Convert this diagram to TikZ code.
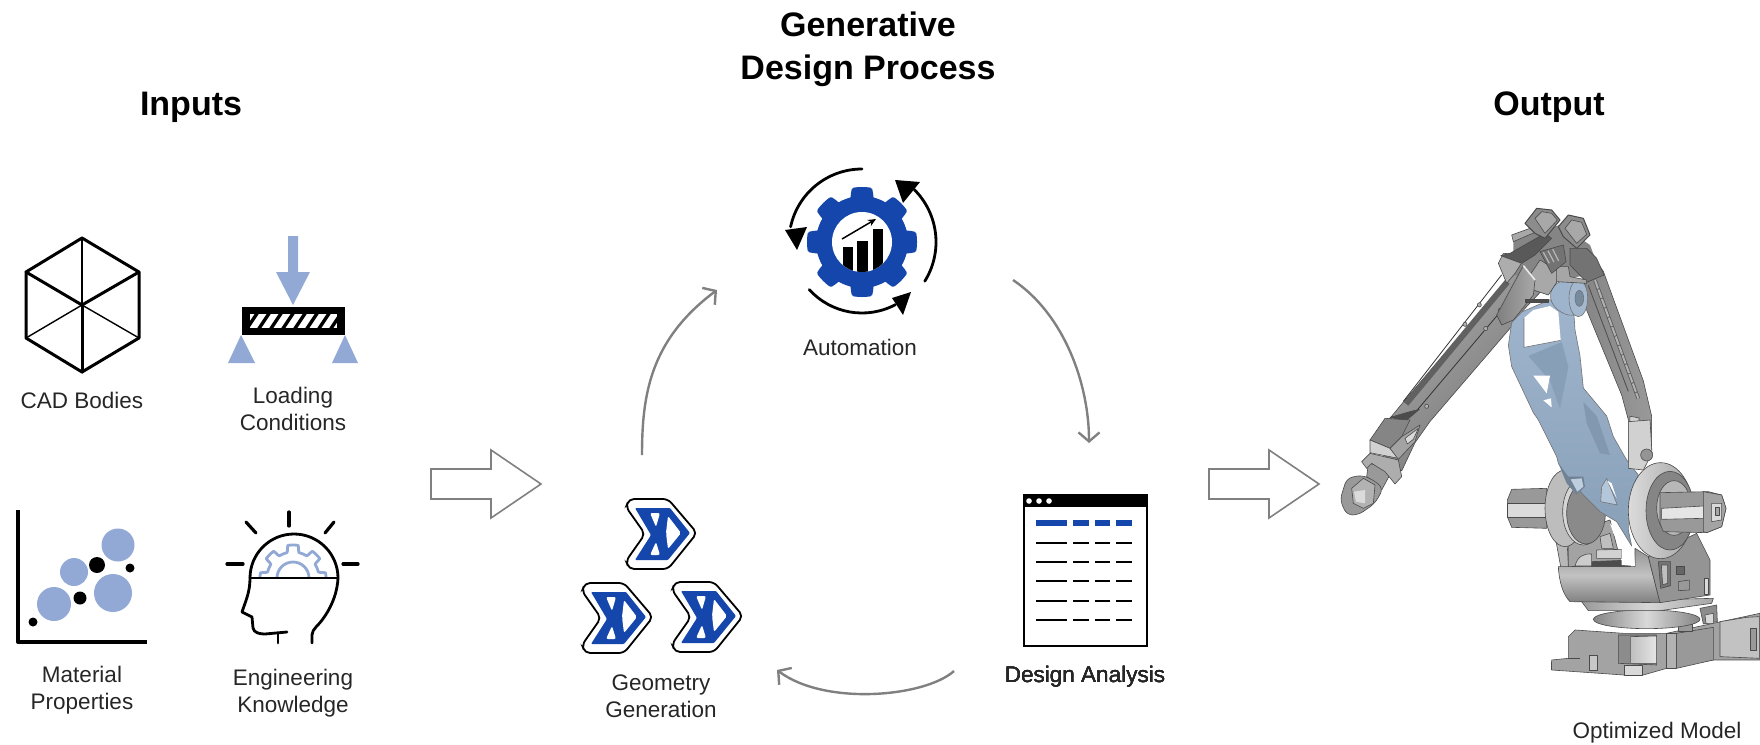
\documentclass[tikz,border=0pt]{standalone}
\usepackage{fontspec}
\setmainfont{Liberation Sans}
\usetikzlibrary{arrows.meta}
\definecolor{softblue}{HTML}{92A9D6}
\definecolor{deepblue}{HTML}{1446AB}
\definecolor{loopgrey}{HTML}{808080}
\definecolor{partblue}{HTML}{94ADC8}
\definecolor{partedge}{HTML}{4A4A4A}
\def\gearplot[#1](#2,#3)(#4:#5){\draw[#1] plot[domain=0:360,samples=241,variable=\t] ({#2+(#4+(#5-#4)*max(0,min(1,2.2*cos(8*\t)+0.4)))*cos(\t)},{#3+(#4+(#5-#4)*max(0,min(1,2.2*cos(8*\t)+0.4)))*sin(\t)}) -- cycle;}
\def\hollowarrow(#1,#2){\draw[bigarrow] (#1,#2-15) -- (#1+60,#2-15) -- (#1+60,#2-34) -- (#1+110,#2) -- (#1+60,#2+34) -- (#1+60,#2+15) -- (#1,#2+15) -- cycle;}
\def\tablerow[#1](#2){\draw[#1] (1036,#2) -- (1067,#2); \draw[#1] (1073,#2) -- (1089,#2); \draw[#1] (1095,#2) -- (1110,#2); \draw[#1] (1116,#2) -- (1132,#2);}
\tikzset{
	heading/.style={font=\bfseries\fontsize{34}{43}\selectfont, text=black, align=center, inner sep=0pt},
	caption/.style={font=\fontsize{22.5}{27}\selectfont, text=black!85, align=center, inner sep=0pt},
	looparrow/.style={line width=2.4pt, color=loopgrey, -{Straight Barb[length=9pt,width=21pt,line width=2.4pt]}},
	bigarrow/.style={line width=1.6pt, color=black!50, line join=miter},
	cubethick/.style={line width=3pt, line join=round, line cap=round},
	cubethin/.style={line width=1.4pt},
	part/.style={draw=partedge, line width=0.6pt, line join=round},
	bluepart/.style={draw=black!55, line width=0.6pt, line join=round},
	baseview/.style={shift={(1500,420)},x=0.3333pt,y=-0.3333pt},
	armview/.style={shift={(1320,190)},x=0.3333pt,y=-0.3534pt},
	headview/.style={shift={(1480,195)},x=0.3333pt,y=-0.3333pt},
	wristview/.style={shift={(1330,360)},x=0.3333pt,y=-0.3333pt},
	geomicon/.pic={
		\draw[fill=white, line width=1.8pt, rounded corners=5pt] (2,0) -- (41,0) -- (70,34) -- (41,70) -- (2,70) -- (-1,62) -- (18,35) -- (-1,8) -- cycle;
		\fill[deepblue, rounded corners=1pt] (8,9) -- (43,9) -- (63,34) -- (41,61) -- (8,61) -- (24,36) -- cycle;
		\fill[white, rounded corners=2pt] (23,14) -- (33,14) -- (29,28) -- cycle;
		\fill[white, rounded corners=2pt] (23,56) -- (33,56) -- (29,43) -- cycle;
		\fill[white, rounded corners=2pt] (41,17) -- (54,34) -- (41,50) -- (39,34) -- cycle;
	}
}

\begin{document}
\begin{tikzpicture}[x=1pt,y=-1pt]
	\useasboundingbox (0,0) rectangle (1760,744);
	%%%%% START %%%%%

	% headings
	\node[heading] (titlegen) at (868,49) {Generative\\Design Process};
	\node[heading] (titlein) at (191,107) {Inputs};
	\node[heading] (titleout) at (1549,107) {Output};

	% cad bodies
	\draw[cubethick] (82,238) -- (139,272) -- (139,338) -- (82,372) -- (26,338) -- (26,272) -- cycle;
	\draw[cubethick] (26,272) -- (82,305) -- (139,272);
	\draw[cubethick] (82,305) -- (82,372);
	\draw[cubethin] (82,238) -- (82,305);
	\draw[cubethin] (26,338) -- (82,305) -- (139,338);
	\node[caption] (cad) at (82,400) {CAD Bodies};

	% loading conditions
	\fill[softblue] (288,236) -- (298,236) -- (298,272) -- (310,272) -- (293,305) -- (276,272) -- (288,272) -- cycle;
	\fill[black] (242,307) rectangle (345,335);
	\fill[white] (250,314) rectangle (337,328);
	\begin{scope}
		\clip (250,314) rectangle (337,328);
		\foreach \x in {250,262,...,340}
			\draw[line width=3.4pt] (\x-4,330) -- (\x+8,312);
	\end{scope}
	\fill[softblue] (228,363) -- (255,363) -- (241,335) -- cycle;
	\fill[softblue] (332,363) -- (358,363) -- (345,335) -- cycle;
	\node[caption] (loading) at (293,409) {Loading\\Conditions};

	% material properties
	\draw[line width=4pt, line join=round] (18,510) -- (18,642) -- (147,642);
	\fill[softblue] (118,545) circle[radius=16.5];
	\fill[softblue] (74,572) circle[radius=14];
	\fill[softblue] (113,593) circle[radius=19];
	\fill[softblue] (54,604) circle[radius=17];
	\fill (97,565) circle[radius=8];
	\fill (130,568) circle[radius=4.5];
	\fill (80,598) circle[radius=6.5];
	\fill (33,622) circle[radius=4.5];
	\node[caption] (material) at (82,690) {Material\\Properties};

	% engineering knowledge
	\begin{scope}
		\clip (240,530) rectangle (350,578);
		\gearplot[softblue, line width=2.8pt, line join=round](293,578)(26:33)
		\draw[softblue, line width=2.8pt] (293,578) circle[radius=16];
	\end{scope}
	\draw[line width=2.8pt, line cap=round, line join=round] (250,578) arc[start angle=180,end angle=360,radius=44] .. controls (337,600) and (325,618) .. (316,627) .. controls (311,632) and (312,636) .. (312,643);
	\draw[line width=2.8pt] (250,578) -- (338,578);
	\draw[line width=2.8pt, line cap=round, line join=round] (250,578) .. controls (250,592) and (246,600) .. (242,612) -- (252,617) -- (253,628) .. controls (254,633) and (260,634) .. (265,634) -- (287,632);
	\draw[line width=2.8pt, line cap=round] (278,633) -- (278,643);
	\foreach \a/\b/\c/\d in {289/512/289/526,246/522/256/533,334/522/325/533,227/564/243/564,343/564/358/564}
		\draw[line width=3.2pt, line cap=round] (\a,\b) -- (\c,\d);
	\node[caption] (knowledge) at (293,693) {Engineering\\Knowledge};

	% automation
	\gearplot[fill=deepblue, draw=deepblue, line width=4pt, line join=round](862,242)(44:53)
	\fill[white] (862,242) circle[radius=30];
	\begin{scope}
		\clip (862,242) circle[radius=30];
		\fill (843,247) rectangle (853,280);
		\fill (857,241) rectangle (868,280);
		\fill (873,229) rectangle (883,280);
	\end{scope}
	\draw[line width=1.5pt, -{Stealth[length=8pt,width=7pt]}] (842,239) -- (876,219);
	\draw[line width=2.8pt, line cap=round] (862,242) ++(270:73) arc[start angle=270,end angle=192,radius=73];
	\fill (785,230) -- (807,227) -- (797,250) -- cycle;
	\draw[line width=2.8pt, line cap=round] (862,242) ++(32:74) arc[start angle=32,end angle=-45,radius=74];
	\fill (895,180) -- (920,182) -- (903,203) -- cycle;
	\draw[line width=2.8pt, line cap=round] (862,242) ++(138:71) arc[start angle=138,end angle=62,radius=71];
	\fill (911,292) -- (892,298) -- (903,315) -- cycle;
	\node[caption] (automation) at (860,347) {Automation};

	% geometry generation
	\pic (geomtop) at (627,499) {geomicon};
	\pic (geomleft) at (583,583) {geomicon};
	\pic (geomright) at (673,582) {geomicon};
	\node[caption] (geometry) at (661,696) {Geometry\\Generation};

	% design analysis
	\draw[line width=2.4pt, fill=white] (1024,495) rectangle (1147,646);
	\fill (1023,494) rectangle (1148,507);
	\foreach \x in {1029,1039,1049}
		\fill[white] (\x,501) circle[radius=2.8];
	\tablerow[deepblue, line width=6pt](523)
	\foreach \y in {543,562,581,601,620}
		\tablerow[line width=2.6pt](\y)
	\node[caption] (analysis) at (1085,677) {Design Analysis};

	% loop arrows
	\coordinate (genout) at (642,455);
	\coordinate (autoin) at (717,290);
	\coordinate (autoout) at (1013,280);
	\coordinate (anaIn) at (1089,443);
	\coordinate (anaout) at (954,671);
	\coordinate (genin) at (777,670);
	\draw[looparrow] (genout) .. controls (642,395) and (650,340) .. (autoin);
	\draw[looparrow] (autoout) .. controls (1065,315) and (1089,385) .. (anaIn);
	\draw[looparrow] (anaout) .. controls (925,697) and (825,706) .. (genin);

	\hollowarrow(431,484)
	\hollowarrow(1209,484)

	% foot of the robot
	\begin{scope}[baseview]
		\draw[part, fill=black!36] (205,650) -- (225,630) -- (370,640) -- (500,640) -- (640,610) -- (780,580) -- (780,720) -- (640,720) -- (500,745) -- (430,765) -- (370,765) -- (155,750) -- (155,720) -- (205,715) -- cycle;
		\draw[part, fill=black!45] (355,645) -- (470,645) -- (470,735) -- (355,730) -- cycle;
		\draw[part, left color=black!25, right color=black!10] (392,650) -- (470,648) -- (470,730) -- (392,730) -- cycle;
		\draw[part, fill=black!30] (500,640) -- (530,640) -- (530,745) -- (500,745) -- cycle;
		\draw[part, fill=black!40] (530,640) -- (640,622) -- (640,720) -- (530,745) -- cycle;
		\draw[part, fill=black!24] (660,605) -- (740,592) -- (778,590) -- (778,715) -- (660,710) -- cycle;
		\draw[part, fill=black!40] (752,625) -- (770,625) -- (770,690) -- (752,690) -- cycle;
		\draw[part, fill=black!22] (268,705) -- (292,705) -- (292,752) -- (268,752) -- cycle;
		\draw[part, fill=black!15] (372,735) -- (428,735) -- (428,765) -- (372,765) -- cycle;
		\draw[part] (205,715) -- (240,715);
		\draw[part] (155,725) -- (155,750);
		% turntable
		\draw[part, fill=black!40] (535,605) -- (578,605) -- (578,635) -- (535,635) -- cycle;
		\draw[part, left color=black!48, right color=black!48, middle color=black!15] (440,598) ellipse[x radius=160, y radius=28];
		\draw[part, fill=black!45] (600,565) -- (650,555) -- (652,605) -- (610,612) -- cycle;
		\draw[part, fill=black!15] (615,585) -- (640,580) -- (640,610) -- (618,610) -- cycle;
		\draw[part, left color=black!40, right color=black!35, middle color=black!16] (245,545) -- (640,535) -- (635,550) -- (480,572) -- (265,572) -- cycle;
		% pedestal
		\draw[part, top color=black!42, bottom color=black!50, middle color=black!24] (175,440) -- (405,440) -- (405,385) -- (445,410) -- (480,548) -- (210,545) .. controls (190,525) and (178,490) .. (175,440) -- cycle;
		\draw[part, fill=black!42] (445,410) -- (590,340) -- (630,420) -- (630,525) -- (480,548) -- cycle;
		\draw[part, fill=black!55] (475,425) -- (512,425) -- (512,497) -- (482,505) -- cycle;
		\draw[part, fill=black!25] (484,435) -- (503,435) -- (503,490) -- (488,494) -- cycle;
		\draw[part, fill=black!60] (530,440) -- (552,440) -- (552,462) -- (530,462) -- cycle;
		\draw[part, fill=black!40] (535,485) -- (568,480) -- (568,510) -- (535,512) -- cycle;
		\draw[part, fill=black!15] (614,475) -- (626,475) -- (626,522) -- (614,522) -- cycle;
		% inside the yoke
		\draw[part, fill=black!36] (205,340) -- (330,300) -- (365,435) -- (205,440) -- cycle;
		\draw[part, fill=black!18] (290,390) -- (365,388) -- (365,415) -- (290,415) -- cycle;
		\draw[part, fill=black!70] (275,425) -- (392,420) -- (392,440) -- (275,440) -- cycle;
		\draw[part, fill=black!20] (225,438) .. controls (232,410) and (250,400) .. (275,402) -- (275,438) -- cycle;
		\draw[part, fill=black!25] (300,350) -- (330,340) -- (340,385) -- (305,385) -- cycle;
		\fill[white] (330,310) -- (400,380) -- (405,438) -- (365,435) -- (365,385) -- (340,340) -- cycle;
		\draw[part, fill=black!28] (160,320) -- (198,300) -- (205,440) -- (182,440) -- cycle;
		% left shaft and hub
		\draw[part, fill=black!40] (35,208) -- (140,205) -- (140,325) -- (35,322) -- (22,290) -- (22,240) -- cycle;
		\draw[part, fill=black!14] (22,250) -- (140,250) -- (140,292) -- (22,292) -- cycle;
		\draw[part, fill=black!26] (195,265) ellipse[x radius=60, y radius=115];
		\draw[part, fill=black!16] (250,275) ellipse[x radius=62, y radius=100];
		\draw[part, fill=black!46] (258,280) ellipse[x radius=58, y radius=92];
	\end{scope}

	% rear link and long arm
	\begin{scope}[armview]
		\draw[part, left color=black!48, right color=black!40] (800,165) -- (850,230) -- (970,540) -- (995,640) -- (995,735) -- (975,745) -- (960,775) -- (925,775) -- (925,650) -- (905,580) -- (800,340) -- (795,270) -- (780,220) -- cycle;
		\draw[line width=3.6pt, color=black!65] (825,255) -- (955,590);
		\draw[line width=2pt, color=black!30, dash pattern=on 9pt off 1pt] (825,255) -- (955,590);
		\draw[line width=0.8pt, color=black!70] (805,270) -- (925,570);
		\draw[part, fill=black!18] (930,640) -- (957,645) -- (957,772) -- (925,772) -- cycle;
		\draw[part, left color=black!32, right color=black!55, shading angle=45] (590,225) -- (660,290) -- (610,340) -- (585,375) -- (330,655) -- (285,715) -- (245,795) -- (180,740) -- (150,710) -- (215,640) -- (250,600) -- cycle;
		\draw[line width=6pt, color=black!62] (562,260) -- (258,605);
		\draw[line width=0.8pt, color=black!80] (590,290) -- (285,630);
		\draw[line width=0.8pt, color=black!80] (545,240) -- (250,598);
		\foreach \a/\b in {541/340,497/392,320/612,435/380,478/325}
			\draw[part, fill=black!30] (\a,\b) circle[radius=6];
	\end{scope}

	% wrist and tool
	\begin{scope}[wristview]
		\draw[part, fill=black!70] (180,172) -- (240,155) -- (268,148) -- (228,182) -- cycle;
		\draw[part, fill=black!48] (120,240) -- (165,175) -- (240,180) -- (215,230) -- (180,265) -- cycle;
		\draw[part, fill=black!18] (120,240) -- (180,265) -- (205,295) -- (120,278) -- cycle;
		\draw[part, fill=black!36] (180,265) -- (215,230) -- (270,195) -- (255,245) -- (205,298) -- cycle;
		\draw[part, fill=black!15] (225,235) -- (265,205) -- (250,238) -- (232,252) -- cycle;
		\draw[part, fill=black!40] (115,310) -- (190,325) -- (155,390) -- (110,350) -- cycle;
		\draw[part, fill=black!32] (95,305) -- (120,280) -- (205,300) -- (215,350) -- (195,372) -- (165,335) -- (125,310) -- (110,325) -- cycle;
		\draw[part, fill=black!40, rounded corners=6pt] (50,355) -- (95,345) -- (130,360) -- (160,385) -- (135,430) -- (85,465) -- (50,465) -- (30,420) -- cycle;
		\draw[part, fill=black!30] (65,385) -- (100,355) -- (135,375) -- (130,430) -- (100,445) -- (70,430) -- cycle;
		\fill[black!14] (72,395) -- (105,390) -- (105,430) -- (78,425) -- cycle;
	\end{scope}

	% bracket, in the units of the foot
	\begin{scope}[baseview]
		\draw[bluepart, top color=partblue!90!white, bottom color=partblue!92!black] (65,-324) -- (35,-292) -- (25,-224) -- (35,-160) -- (100,-22) -- (115,0) -- (170,110) -- (175,130) -- (205,175) -- (250,225) -- (300,275) -- (350,305) -- (395,378) -- (385,330) -- (385,260) -- (395,210) -- (415,165) -- (380,120) -- (340,50) -- (320,-12) -- (250,-96) -- (240,-192) -- (225,-270) -- (222,-314) -- (190,-330) -- (150,-361) -- cycle;
		\fill[white] (72,-306) -- (72,-218) -- (182,-239) -- (175,-324) -- (150,-342) -- (100,-330) -- cycle;
		\draw[bluepart] (72,-306) -- (72,-218) -- (182,-239);
		\fill[partblue!92!black] (85,-192) -- (185,-234) -- (205,-160) -- (180,-33) -- (150,-118) -- cycle;
		\fill[white] (100,-133) -- (150,-133) -- (140,-80) -- cycle;
		\fill[white] (130,-59) -- (153,-65) -- (155,-38) -- cycle;
		\fill[partblue!88!black] (250,-54) -- (290,-12) -- (330,105) -- (300,100) -- (260,10) -- cycle;
		\fill[partblue!75!black] (175,130) -- (205,170) -- (250,170) -- (255,200) -- (230,225) -- (200,190) -- cycle;
		\fill[partblue!60!white] (212,178) -- (245,175) -- (250,200) -- (232,215) -- cycle;
		\draw[bluepart, fill=partblue!70!white] (305,200) -- (320,175) -- (352,255) -- (302,245) -- cycle;
		\fill[white] (322,182) -- (335,190) -- (350,235) -- cycle;
		\draw[bluepart, fill=partblue!92!white, rounded corners=8pt] (165,-415) -- (240,-420) -- (260,-365) -- (230,-310) -- (180,-320) -- (145,-365) -- cycle;
		\draw[bluepart, fill=partblue!85!white] (235,-365) ellipse[x radius=28, y radius=55];
		\draw[bluepart, fill=partblue!80!black] (238,-365) ellipse[x radius=13, y radius=24];
	\end{scope}

	% right hub and shaft
	\begin{scope}[baseview]
		\draw[part, fill=black!18] (385,5) -- (450,0) -- (456,100) -- (430,150) -- (385,145) -- cycle;
		\draw[part, fill=black!42] (440,105) circle[radius=18];
		\draw[part, left color=black!14, right color=black!35] (482,272) ellipse[x radius=97, y radius=144];
		\draw[part, fill=black!48] (510,272) ellipse[x radius=72, y radius=118];
		\draw[part, fill=black!28] (522,264) ellipse[x radius=52, y radius=82];
		\draw[part, fill=black!40] (480,218) -- (625,215) -- (665,225) -- (678,265) -- (665,320) -- (620,338) -- (490,335) -- (480,310) -- cycle;
		\draw[part, fill=black!10] (485,265) -- (610,258) -- (610,295) -- (485,298) -- cycle;
		\draw[part, fill=black!36] (610,215) -- (665,225) -- (678,265) -- (665,320) -- (620,338) -- (610,335) -- cycle;
		\draw[part, fill=black!15] (635,250) -- (665,250) -- (665,300) -- (635,305) -- cycle;
		\draw[part, fill=black!35] (645,262) -- (658,262) -- (658,285) -- (645,285) -- cycle;
	\end{scope}

	% wrist housing and motors
	\begin{scope}[headview]
		\fill[black!48] (100,130) -- (240,90) -- (330,150) -- (360,230) -- (230,260) -- (100,240) -- cycle;
		\draw[part, fill=black!55] (320,160) -- (350,190) -- (372,240) -- (320,262) -- (270,210) -- (270,160) -- cycle;
		\draw[part, fill=black!35] (215,215) -- (265,215) -- (270,245) -- (320,255) -- (320,265) -- (230,260) -- cycle;
		\draw[part, fill=black!34] (180,195) -- (230,225) -- (230,262) -- (205,300) -- (160,285) -- (150,240) -- cycle;
		\draw[part, left color=black!50, right color=black!34] (130,212) -- (165,255) -- (160,300) -- (100,375) -- (65,390) -- (50,360) -- cycle;
		\draw[part, fill=black!32] (55,205) -- (70,175) -- (140,180) -- (105,235) -- (80,265) -- cycle;
		\draw[line width=1.6pt, color=black!8] (130,212) -- (165,255);
		\draw[part, fill=black!55] (180,170) -- (250,150) -- (258,200) -- (215,235) -- cycle;
		\foreach \a in {0,14,28}
			\draw[line width=1.2pt, color=black!28] (190+\a,172-\a/3) -- (208+\a,205-\a/4);
		\draw[part, fill=black!65] (62,182) -- (90,175) -- (195,115) -- (215,130) -- (165,180) -- (125,205) -- cycle;
		\draw[part, fill=black!34] (95,120) -- (150,100) -- (165,112) -- (100,140) -- cycle;
		\draw[part, line width=1pt, fill=black!45] (135,85) -- (170,40) -- (215,45) -- (240,75) -- (195,130) -- (165,115) -- cycle;
		\draw[part, fill=black!34] (165,70) -- (185,50) -- (215,55) -- (232,75) -- (195,115) -- cycle;
		\draw[part, line width=1pt, fill=black!45] (235,95) -- (265,60) -- (310,70) -- (330,120) -- (290,160) -- (250,125) -- cycle;
		\draw[part, fill=black!34] (255,100) -- (275,75) -- (305,82) -- (320,118) -- (290,145) -- cycle;
		\draw[part, fill=black!70] (135,314) -- (205,314) -- (205,322) -- (135,322) -- cycle;
	\end{scope}
	\node[caption] (optimized) at (1657,733) {Optimized Model};

	%%%%% END %%%%%
\end{tikzpicture}
\end{document}
